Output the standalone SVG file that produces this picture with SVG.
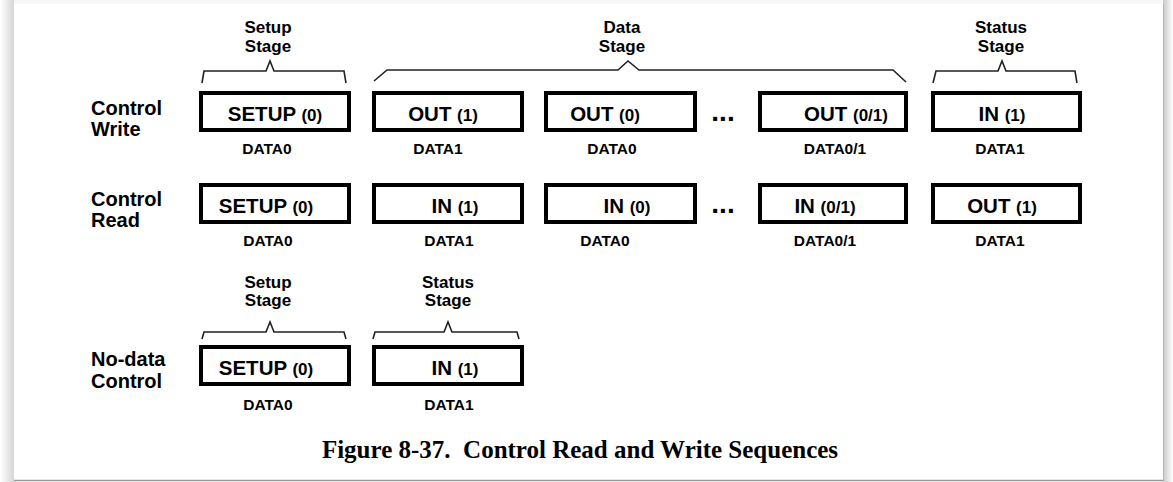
<svg xmlns="http://www.w3.org/2000/svg" width="1173" height="482" viewBox="0 0 1173 482">
<defs>
<linearGradient id="shL" x1="0" y1="0" x2="1" y2="0"><stop offset="0" stop-color="#ffffff"/><stop offset="1" stop-color="#d6d6d6"/></linearGradient>
<linearGradient id="shR" x1="0" y1="0" x2="1" y2="0"><stop offset="0" stop-color="#c8c8c8"/><stop offset="1" stop-color="#ffffff"/></linearGradient>
<style>
.bx{fill:none;stroke:#000;stroke-width:4}
.br{fill:none;stroke:#222;stroke-width:1.6;stroke-linejoin:miter}
.lb{font-family:"Liberation Sans",Arial,sans-serif;font-weight:bold;font-size:20px;fill:#000}
.st{font-family:"Liberation Sans",Arial,sans-serif;font-weight:bold;font-size:17px;fill:#000;text-anchor:middle}
.tx{font-family:"Liberation Sans",Arial,sans-serif;font-weight:bold;font-size:20.5px;fill:#000;text-anchor:middle}
.sm{font-size:17px}
.dt{font-family:"Liberation Sans",Arial,sans-serif;font-weight:bold;font-size:15.5px;fill:#000;text-anchor:middle}
.dots{font-family:"Liberation Sans",Arial,sans-serif;font-weight:bold;font-size:28px;fill:#000;text-anchor:middle}
.cap{font-family:"Liberation Serif","Times New Roman",serif;font-weight:bold;font-size:25px;fill:#000;text-anchor:middle}
</style>
</defs>
<rect x="0" y="0" width="1173" height="482" fill="#f7f7f7"/>
<rect x="0" y="0" width="14" height="482" fill="url(#shL)"/>
<rect x="1163" y="0" width="10" height="482" fill="url(#shR)"/>
<rect x="14" y="4" width="1149" height="476" fill="#ffffff"/>
<line x1="14" y1="480.5" x2="1163" y2="480.5" stroke="#9a9a9a" stroke-width="1.5"/>
<line x1="1163.5" y1="4" x2="1163.5" y2="481" stroke="#b5b5b5" stroke-width="1"/>

<g id="labels">
<text class="lb" x="91" y="115">Control</text>
<text class="lb" x="91" y="136">Write</text>
<text class="lb" x="91" y="206">Control</text>
<text class="lb" x="91" y="227">Read</text>
<text class="lb" x="91" y="366">No-data</text>
<text class="lb" x="91" y="388">Control</text>
</g>

<g id="stages">
<text class="st" x="268" y="33">Setup</text>
<text class="st" x="268" y="52">Stage</text>
<text class="st" x="622" y="33">Data</text>
<text class="st" x="622" y="52">Stage</text>
<text class="st" x="1001" y="33">Status</text>
<text class="st" x="1001" y="52">Stage</text>
<text class="st" x="268" y="288">Setup</text>
<text class="st" x="268" y="306">Stage</text>
<text class="st" x="448" y="288">Status</text>
<text class="st" x="448" y="306">Stage</text>
</g>

<g id="connectors">
<path class="br" d="M202,83 L204,71 L266,71 L270,61 L274,71 L344,71 L346,83"/>
<path class="br" d="M374,81 L387,70 L618,70 L628,61 L639,70 L893,70 L906,82"/>
<path class="br" d="M933,83 L936,71 L998,71 L1002,61 L1006,71 L1075,71 L1077,83"/>
<path class="br" d="M202,339 L204,332 L266,332 L270,322 L274,332 L344,332 L346,339"/>
<path class="br" d="M373,339 L375,332 L444,332 L448,322 L452,332 L517,332 L519,339"/>
</g>

<g id="w-setup"><rect class="bx" x="201" y="93" width="148" height="37"/><text class="tx" x="275" y="121">SETUP <tspan class="sm">(0)</tspan></text><text class="dt" x="267" y="154">DATA0</text></g>
<g id="w-out1"><rect class="bx" x="374" y="93" width="148" height="37"/><text class="tx" x="443" y="121">OUT <tspan class="sm">(1)</tspan></text><text class="dt" x="438" y="154">DATA1</text></g>
<g id="w-out0"><rect class="bx" x="546" y="93" width="149" height="37"/><text class="tx" x="605" y="121">OUT <tspan class="sm">(0)</tspan></text><text class="dt" x="612" y="154">DATA0</text></g>
<g id="w-dots"><text class="dots" x="723" y="121">...</text></g>
<g id="w-outx"><rect class="bx" x="760" y="93" width="146" height="37"/><text class="tx" x="846" y="121">OUT <tspan class="sm">(0/1)</tspan></text><text class="dt" x="835" y="154">DATA0/1</text></g>
<g id="w-in1"><rect class="bx" x="933" y="93" width="147" height="37"/><text class="tx" x="1002" y="121">IN <tspan class="sm">(1)</tspan></text><text class="dt" x="1000" y="154">DATA1</text></g>

<g id="r-setup"><rect class="bx" x="201" y="185" width="148" height="37"/><text class="tx" x="266" y="213">SETUP <tspan class="sm">(0)</tspan></text><text class="dt" x="268" y="246">DATA0</text></g>
<g id="r-in1"><rect class="bx" x="374" y="185" width="148" height="37"/><text class="tx" x="455" y="213">IN <tspan class="sm">(1)</tspan></text><text class="dt" x="449" y="246">DATA1</text></g>
<g id="r-in0"><rect class="bx" x="546" y="185" width="149" height="37"/><text class="tx" x="627" y="213">IN <tspan class="sm">(0)</tspan></text><text class="dt" x="605" y="246">DATA0</text></g>
<g id="r-dots"><text class="dots" x="723" y="213">...</text></g>
<g id="r-inx"><rect class="bx" x="760" y="185" width="146" height="37"/><text class="tx" x="825" y="213">IN <tspan class="sm">(0/1)</tspan></text><text class="dt" x="825" y="246">DATA0/1</text></g>
<g id="r-out1"><rect class="bx" x="933" y="185" width="147" height="37"/><text class="tx" x="1002" y="213">OUT <tspan class="sm">(1)</tspan></text><text class="dt" x="1000" y="246">DATA1</text></g>

<g id="n-setup"><rect class="bx" x="201" y="347" width="148" height="37"/><text class="tx" x="266" y="375">SETUP <tspan class="sm">(0)</tspan></text><text class="dt" x="268" y="410">DATA0</text></g>
<g id="n-in1"><rect class="bx" x="374" y="347" width="148" height="37"/><text class="tx" x="455" y="375">IN <tspan class="sm">(1)</tspan></text><text class="dt" x="449" y="410">DATA1</text></g>

<text class="cap" x="580" y="458" xml:space="preserve">Figure 8-37.  Control Read and Write Sequences</text>
</svg>
